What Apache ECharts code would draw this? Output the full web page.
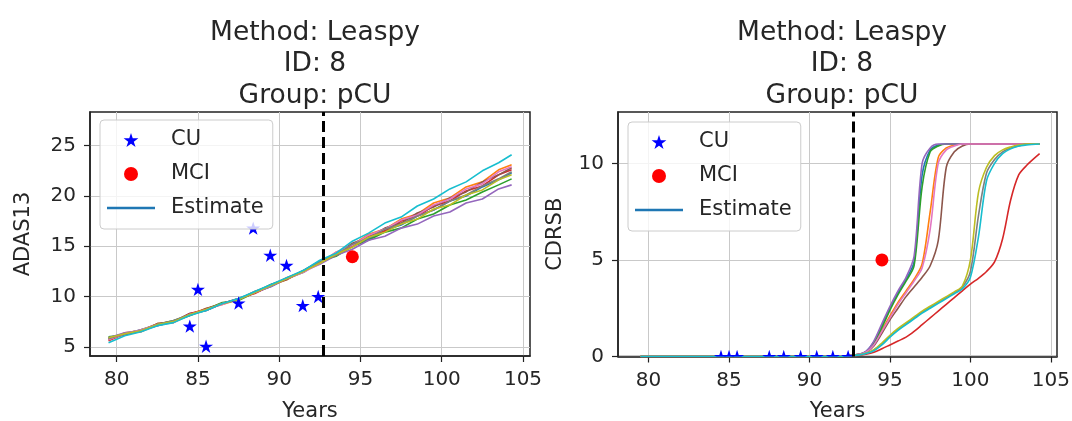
<!DOCTYPE html>
<html>
<head>
<meta charset="utf-8">
<script src="https://cdn.jsdelivr.net/npm/echarts@6/dist/echarts.min.js"></script>
<style>
  html, body { margin: 0; padding: 0; background: #ffffff; }
  #chart { width: 1072px; height: 421px; }
</style>
</head>
<body>
<div id="chart"></div>
<script>
// ---- observations ----
const cuYears   = [84.5, 85.0, 85.5, 87.5, 88.4, 89.45, 90.45, 91.45, 92.4];
const cuAdas    = [7.05, 10.7, 5.05, 9.35, 16.8, 14.1, 13.1, 9.1, 10.0];
const cuCdrsb   = [0, 0, 0, 0, 0, 0, 0, 0, 0];
const mciYears  = [94.5];
const mciAdas   = [13.95];
const mciCdrsb  = [5.0];
const conversionYear = 92.72;

// ---- ADAS13 estimated trajectories (one row per sample) ----
const adasYears = [79.5, 80.5, 81.5, 82.5, 83.5, 84.5, 85.5, 86.5, 87.5, 88.5, 89.5, 90.5, 91.5,
                   92.5, 93.5, 94.5, 95.5, 96.5, 97.5, 98.5, 99.5, 100.5, 101.5, 102.5, 103.5, 104.3];
const adasEstimates = [
  [5.9, 6.3, 6.7, 7.1, 7.5, 8.3, 8.6, 9.3, 9.8, 10.4, 11.0, 11.8, 12.6, 13.5, 14.1, 15.2, 15.7, 16.6, 17.1, 18.0, 18.6, 19.5, 20.0, 20.9, 21.6, 22.3],
  [5.7, 6.4, 6.6, 7.3, 7.4, 8.2, 8.8, 9.2, 9.7, 10.5, 11.1, 11.7, 12.5, 13.3, 14.4, 15.1, 16.2, 16.7, 17.7, 18.2, 19.3, 19.8, 20.9, 21.4, 22.6, 23.1],
  [6.0, 6.2, 6.7, 7.2, 7.6, 8.1, 8.7, 9.4, 9.6, 10.4, 11.2, 11.8, 12.4, 13.5, 14.0, 15.0, 15.6, 16.4, 16.8, 17.7, 18.2, 19.1, 19.6, 20.4, 21.1, 21.7],
  [5.6, 6.3, 6.5, 7.2, 7.5, 8.3, 8.7, 9.3, 9.8, 10.3, 11.1, 11.9, 12.5, 13.3, 14.3, 15.0, 16.0, 16.5, 17.5, 18.0, 19.0, 19.5, 20.5, 21.0, 22.1, 22.6],
  [5.9, 6.4, 6.6, 7.1, 7.5, 8.2, 8.6, 9.3, 9.7, 10.4, 11.0, 11.8, 12.5, 13.2, 14.1, 14.7, 15.6, 16.0, 16.8, 17.2, 18.0, 18.4, 19.3, 19.7, 20.7, 21.1],
  [5.8, 6.2, 6.6, 7.3, 7.5, 8.1, 8.8, 9.3, 9.7, 10.4, 11.2, 11.7, 12.6, 13.5, 14.1, 15.3, 15.9, 16.8, 17.3, 18.3, 18.9, 19.8, 20.4, 21.4, 22.1, 22.8],
  [5.7, 6.3, 6.7, 7.2, 7.4, 8.2, 8.7, 9.2, 9.8, 10.4, 11.1, 11.8, 12.4, 13.3, 14.4, 15.1, 16.1, 16.7, 17.6, 18.1, 19.1, 19.7, 20.7, 21.2, 22.4, 22.9],
  [5.8, 6.3, 6.6, 7.2, 7.6, 8.2, 8.6, 9.3, 9.7, 10.5, 11.1, 11.8, 12.5, 13.5, 14.1, 15.2, 15.8, 16.7, 17.2, 18.0, 18.6, 19.5, 20.1, 21.0, 21.7, 22.4],
  [5.9, 6.3, 6.6, 7.2, 7.5, 8.2, 8.7, 9.3, 9.7, 10.4, 11.1, 11.8, 12.5, 13.3, 14.2, 14.9, 15.9, 16.4, 17.2, 17.7, 18.7, 19.1, 20.1, 20.6, 21.6, 22.1],
  [5.4, 6.1, 6.5, 7.1, 7.4, 8.1, 8.6, 9.3, 9.8, 10.5, 11.2, 11.9, 12.6, 13.6, 14.3, 15.5, 16.3, 17.3, 17.9, 19.0, 19.7, 20.7, 21.4, 22.5, 23.3, 24.1]
];

// ---- CDRSB estimated trajectories ----
const cdrsbYears = [79.5, 84, 88, 92, 93, 93.5, 94, 94.5, 95, 95.5, 96, 96.5, 97, 97.5, 98,
                    98.5, 99, 99.5, 100, 100.5, 101, 101.5, 102, 102.5, 103, 103.5, 104.3];
const cdrsbEstimates = [
  [0, 0, 0, 0.02, 0.1, 0.25, 0.75, 1.6, 2.5, 3.3, 4.0, 4.9, 9.4, 10.7, 10.95, 11.0, 11.0, 11.0, 11.0, 11.0, 11.0, 11.0, 11.0, 11.0, 11.0, 11.0, 11.0],
  [0, 0, 0, 0.02, 0.1, 0.22, 0.65, 1.35, 2.1, 2.8, 3.4, 4.0, 4.8, 7.5, 10.3, 10.8, 10.95, 11.0, 11.0, 11.0, 11.0, 11.0, 11.0, 11.0, 11.0, 11.0, 11.0],
  [0, 0, 0, 0.02, 0.1, 0.24, 0.7, 1.5, 2.4, 3.2, 3.9, 4.7, 8.8, 10.6, 10.9, 11.0, 11.0, 11.0, 11.0, 11.0, 11.0, 11.0, 11.0, 11.0, 11.0, 11.0, 11.0],
  [0, 0, 0, 0.01, 0.06, 0.12, 0.22, 0.4, 0.6, 0.8, 1.0, 1.3, 1.65, 2.0, 2.35, 2.7, 3.05, 3.4, 3.75, 4.05, 4.4, 4.9, 6.1, 8.1, 9.4, 9.9, 10.5],
  [0, 0, 0, 0.02, 0.1, 0.25, 0.8, 1.7, 2.6, 3.4, 4.1, 5.2, 10.0, 10.8, 11.0, 11.0, 11.0, 11.0, 11.0, 11.0, 11.0, 11.0, 11.0, 11.0, 11.0, 11.0, 11.0],
  [0, 0, 0, 0.02, 0.1, 0.2, 0.55, 1.2, 1.9, 2.5, 3.1, 3.6, 4.1, 4.7, 6.0, 9.8, 10.6, 10.9, 11.0, 11.0, 11.0, 11.0, 11.0, 11.0, 11.0, 11.0, 11.0],
  [0, 0, 0, 0.02, 0.1, 0.22, 0.6, 1.3, 2.0, 2.7, 3.3, 3.9, 4.6, 6.6, 10.0, 10.7, 10.9, 11.0, 11.0, 11.0, 11.0, 11.0, 11.0, 11.0, 11.0, 11.0, 11.0],
  [0, 0, 0, 0.01, 0.08, 0.16, 0.33, 0.65, 1.05, 1.4, 1.7, 2.0, 2.3, 2.55, 2.8, 3.05, 3.3, 3.6, 4.4, 7.3, 9.5, 10.2, 10.6, 10.8, 10.9, 11.0, 11.0],
  [0, 0, 0, 0.01, 0.08, 0.17, 0.35, 0.7, 1.1, 1.45, 1.75, 2.05, 2.35, 2.6, 2.85, 3.1, 3.35, 3.65, 5.0, 8.5, 9.8, 10.4, 10.7, 10.85, 10.95, 11.0, 11.0],
  [0, 0, 0, 0.01, 0.07, 0.15, 0.3, 0.6, 1.0, 1.35, 1.65, 1.95, 2.25, 2.5, 2.75, 3.0, 3.25, 3.5, 4.1, 6.2, 9.1, 10.0, 10.5, 10.75, 10.9, 10.95, 11.0]
];

// ---- axis ticks ----
const yearTicks  = [80, 85, 90, 95, 100, 105];
const adasTicks  = [5, 10, 15, 20, 25];
const cdrsbTicks = [0, 5, 10];

const titleText = 'Method: Leaspy\nID: 8\nGroup: pCU';

// ---- styling ----
const FONT = 'DejaVu Sans';
const INK = '#262626';
const PALETTE = ['#1f77b4', '#ff7f0e', '#2ca02c', '#d62728', '#9467bd',
                 '#8c564b', '#e377c2', '#7f7f7f', '#bcbd22', '#17becf'];
const STAR_D = 'M0,-1L-0.2245,-0.309L-0.951,-0.309L-0.363,0.118L-0.588,0.809L0,0.382L0.588,0.809L0.363,0.118L0.951,-0.309L0.2245,-0.309Z';
const STAR = 'path://' + STAR_D;
const LINE_ICON = 'path://M0,0H48V2.6H0Z';
const STAR_SIZE = 14;

const chart = echarts.init(document.getElementById('chart'), null, { renderer: 'canvas' });

function pairs(xs, ys) { return xs.map((x, i) => [x, ys[i]]); }

function estimateSeries(years, rows, axisIndex, smooth) {
  return rows.map((vals, i) => ({
    type: 'line',
    name: 'Estimate',
    xAxisIndex: axisIndex,
    yAxisIndex: axisIndex,
    data: pairs(years, vals),
    symbol: 'none',
    showSymbol: false,
    smooth: smooth,
    clip: true,
    silent: true,
    z: 2,
    lineStyle: { color: PALETTE[i], width: 1.6 },
    itemStyle: { color: PALETTE[i] }
  }));
}

function xAxisFor(gridIndex, min, max) {
  return {
    type: 'value', gridIndex, min, max,
    name: 'Years', nameLocation: 'middle', nameGap: 45,
    nameTextStyle: { fontFamily: FONT, fontSize: 21, color: INK },
    axisLine: { show: true, onZero: false, lineStyle: { color: '#222', width: 1.5 } },
    axisTick: { show: true, length: 6, customValues: yearTicks, lineStyle: { color: '#222', width: 1.2 } },
    axisLabel: { customValues: yearTicks, margin: 14, fontFamily: FONT, fontSize: 20, color: INK },
    splitLine: { show: true, lineStyle: { color: '#c9c9c9', width: 1 } }
  };
}

function yAxisFor(gridIndex, min, max, ticks, name, nameGap) {
  return {
    type: 'value', gridIndex, min, max,
    name, nameLocation: 'middle', nameGap,
    nameTextStyle: { fontFamily: FONT, fontSize: 21, color: INK },
    axisLine: { show: true, onZero: false, lineStyle: { color: '#222', width: 1.5 } },
    axisTick: { show: true, length: 6, customValues: ticks, lineStyle: { color: '#222', width: 1.2 } },
    axisLabel: { customValues: ticks, margin: 14, fontFamily: FONT, fontSize: 20, color: INK },
    splitLine: { show: true, lineStyle: { color: '#c9c9c9', width: 1 } }
  };
}

const legendItems = [
  { name: 'CU', icon: STAR },
  { name: 'MCI', icon: 'circle' },
  { name: 'Estimate', icon: LINE_ICON }
];

function legendAt(left, top) {
  return {
    orient: 'vertical', left, top,
    data: legendItems,
    selectedMode: false,
    itemWidth: 48, itemHeight: 14, itemGap: 12,
    padding: [9, 9, 10, 7],
    backgroundColor: 'rgba(255,255,255,0.8)',
    borderColor: '#cccccc', borderWidth: 1, borderRadius: 4,
    textStyle: { fontFamily: FONT, fontSize: 21, color: INK, lineHeight: 22, padding: [0, 0, 0, 11] }
  };
}

const conversionMark = {
  silent: true,
  symbol: ['none', 'none'],
  label: { show: false },
  lineStyle: { color: '#000000', width: 3, type: [11, 5] },
  data: [{ xAxis: conversionYear }]
};

const gridBase = {
  show: true, borderColor: '#222', borderWidth: 1.5, backgroundColor: 'transparent',
  containLabel: false, outerBoundsMode: 'none'
};

const option = {
  animation: false,
  backgroundColor: '#ffffff',
  title: [
    { text: titleText, left: 310, top: 12, textAlign: 'center',
      textStyle: { fontFamily: FONT, fontSize: 26.5, fontWeight: 'normal', color: INK, lineHeight: 31.5 } },
    { text: titleText, left: 837, top: 12, textAlign: 'center',
      textStyle: { fontFamily: FONT, fontSize: 26.5, fontWeight: 'normal', color: INK, lineHeight: 31.5 } }
  ],
  legend: [legendAt(100, 120), legendAt(628, 122)],
  grid: [
    Object.assign({ left: 90, top: 112, width: 440, height: 244 }, gridBase),
    Object.assign({ left: 618, top: 112, width: 439, height: 244.5 }, gridBase)
  ],
  xAxis: [xAxisFor(0, 78.36, 105.43), xAxisFor(1, 78.1, 105.38)],
  yAxis: [
    yAxisFor(0, 4.08, 28.35, adasTicks, 'ADAS13', 56),
    yAxisFor(1, 0, 12.66, cdrsbTicks, 'CDRSB', 52)
  ],
  series: [
    ...estimateSeries(adasYears, adasEstimates, 0, false),
    {
      type: 'scatter', name: 'CU', xAxisIndex: 0, yAxisIndex: 0, z: 3,
      data: pairs(cuYears, cuAdas),
      symbol: STAR, symbolSize: STAR_SIZE, symbolKeepAspect: true,
      itemStyle: { color: '#0000ff', opacity: 1 }
    },
    {
      type: 'scatter', name: 'MCI', xAxisIndex: 0, yAxisIndex: 0, z: 5,
      data: pairs(mciYears, mciAdas),
      symbol: 'circle', symbolSize: 13,
      itemStyle: { color: '#ff0000', opacity: 1 },
      markLine: conversionMark
    },
    ...estimateSeries(cdrsbYears, cdrsbEstimates, 1, 0.3),
    {
      // stars drawn through a custom series so the plot rectangle clips them
      type: 'custom', name: 'CU', xAxisIndex: 1, yAxisIndex: 1, z: 3,
      data: pairs(cuYears, cuCdrsb),
      itemStyle: { color: '#0000ff' },
      renderItem: function (params, api) {
        const p = api.coord([api.value(0), api.value(1)]);
        const s = STAR_SIZE;
        const cs = params.coordSys;
        return {
          type: 'path',
          shape: { pathData: STAR_D, x: p[0] - s / 2, y: p[1] - s / 2, width: s, height: s, layout: 'center' },
          style: { fill: '#0000ff' },
          clipPath: { type: 'rect', shape: { x: cs.x, y: cs.y, width: cs.width, height: cs.height } }
        };
      }
    },
    {
      type: 'scatter', name: 'MCI', xAxisIndex: 1, yAxisIndex: 1, z: 5,
      data: pairs(mciYears, mciCdrsb),
      symbol: 'circle', symbolSize: 13,
      itemStyle: { color: '#ff0000', opacity: 1 },
      markLine: conversionMark
    }
  ]
};

chart.setOption(option);
</script>
</body>
</html>
